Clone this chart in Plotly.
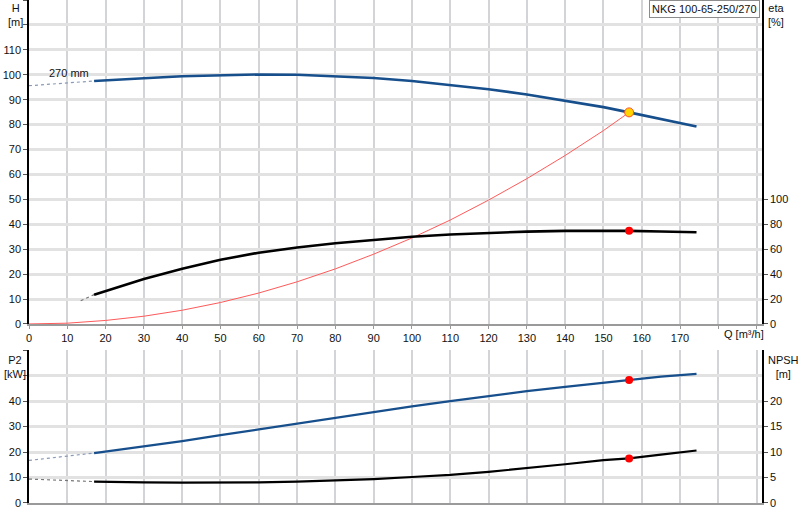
import plotly.graph_objects as go

# Pump NKG 100-65-250/270, values
pump_name = "NKG 100-65-250/270"
impeller = "270 mm"

# Q in m³/h
q_main = [17, 20, 30, 40, 50, 60, 70, 80, 90, 100, 110, 120, 130, 140, 150, 156.7, 165, 174.3]
h_main = [97.5, 97.8, 98.6, 99.4, 99.9, 100.1, 100.0, 99.5, 98.7, 97.5, 96.0, 94.2, 92.1, 89.7, 87.0, 84.9, 82.3, 79.2]
q_h_ext = [0, 17]
h_ext = [95.6, 97.5]

q_eta = [17, 20, 30, 40, 50, 60, 70, 80, 90, 100, 110, 120, 130, 140, 150, 156.7, 165, 174.3]
eta_main = [23.5, 26.5, 36.0, 44.2, 51.5, 57.2, 61.4, 64.8, 67.6, 70.0, 71.8, 73.2, 74.1, 74.7, 75.0, 74.7, 74.2, 73.6]
q_eta_ext = [13.5, 17]
eta_ext = [18.6, 23.5]

q_sys = [0, 10, 20, 30, 40, 50, 60, 70, 80, 90, 100, 110, 120, 130, 140, 150, 156.7]
h_sys = [0, 0.3, 1.4, 3.1, 5.5, 8.6, 12.4, 16.9, 22.1, 28.0, 34.5, 41.7, 49.7, 58.3, 67.6, 77.6, 84.9]

q_p2 = [17, 20, 30, 40, 50, 60, 70, 80, 90, 100, 110, 120, 130, 140, 150, 156.7, 165, 174.3]
p2_main = [19.6, 20.2, 22.3, 24.3, 26.6, 28.9, 31.1, 33.4, 35.7, 37.9, 40.0, 42.0, 43.9, 45.6, 47.3, 48.3, 49.6, 50.7]
q_p2_ext = [0, 17]
p2_ext = [16.7, 19.6]

q_npsh = [17, 20, 30, 40, 50, 60, 70, 80, 90, 100, 110, 120, 130, 140, 150, 156.7, 165, 174.3]
npsh_main = [4.2, 4.15, 4.05, 4.0, 4.0, 4.05, 4.2, 4.4, 4.7, 5.1, 5.5, 6.1, 6.8, 7.6, 8.4, 8.75, 9.5, 10.3]
q_npsh_ext = [0, 17]
npsh_ext = [4.7, 4.2]

q_duty = 156.7
h_duty = 84.9
eta_duty = 74.7
p2_duty = 48.3
npsh_duty = 8.75

x_ticks = list(range(0, 200, 10))
x_labels = [str(v) if v <= 170 else "" for v in x_ticks]

BLUE = "#174f8c"
FONT = "Liberation Sans, Arial, sans-serif"

fig = go.Figure()

# top: head / efficiency
fig.add_trace(go.Scatter(x=q_h_ext, y=h_ext, mode="lines",
                         line=dict(color="#8a9ab5", width=1.2, dash="dot"),
                         xaxis="x", yaxis="y"))
fig.add_trace(go.Scatter(x=q_sys, y=h_sys, mode="lines",
                         line=dict(color="#ff5a5a", width=1),
                         xaxis="x", yaxis="y"))
fig.add_trace(go.Scatter(x=q_main, y=h_main, mode="lines",
                         line=dict(color=BLUE, width=2.6),
                         xaxis="x", yaxis="y"))
fig.add_trace(go.Scatter(x=q_eta_ext, y=eta_ext, mode="lines",
                         line=dict(color="#777777", width=1.2, dash="dot"),
                         xaxis="x", yaxis="y2"))
fig.add_trace(go.Scatter(x=q_eta, y=eta_main, mode="lines",
                         line=dict(color="black", width=2.6),
                         xaxis="x", yaxis="y2"))
fig.add_trace(go.Scatter(x=[q_duty], y=[h_duty], mode="markers",
                         marker=dict(color="#ffd400", size=9,
                                     line=dict(color="#ff5020", width=1)),
                         xaxis="x", yaxis="y"))
fig.add_trace(go.Scatter(x=[q_duty], y=[eta_duty], mode="markers",
                         marker=dict(color="#ff0000", size=8),
                         xaxis="x", yaxis="y2"))

# bottom: power / NPSH
fig.add_trace(go.Scatter(x=q_p2_ext, y=p2_ext, mode="lines",
                         line=dict(color="#8a9ab5", width=1.2, dash="dot"),
                         xaxis="x2", yaxis="y3"))
fig.add_trace(go.Scatter(x=q_p2, y=p2_main, mode="lines",
                         line=dict(color=BLUE, width=2.2),
                         xaxis="x2", yaxis="y3"))
fig.add_trace(go.Scatter(x=[q_duty], y=[p2_duty], mode="markers",
                         marker=dict(color="#ff0000", size=8),
                         xaxis="x2", yaxis="y3"))
fig.add_trace(go.Scatter(x=q_npsh_ext, y=npsh_ext, mode="lines",
                         line=dict(color="#777777", width=1.2, dash="dot"),
                         xaxis="x2", yaxis="y4"))
fig.add_trace(go.Scatter(x=q_npsh, y=npsh_main, mode="lines",
                         line=dict(color="black", width=2.2),
                         xaxis="x2", yaxis="y4"))
fig.add_trace(go.Scatter(x=[q_duty], y=[npsh_duty], mode="markers",
                         marker=dict(color="#ff0000", size=8),
                         xaxis="x2", yaxis="y4"))

axis_font = dict(family=FONT, size=11, color="#111111")
h_ticks = list(range(0, 140, 10))
p2_ticks = list(range(0, 70, 10))

fig.update_layout(
    width=800, height=520,
    margin=dict(l=29, r=38, t=0, b=17, autoexpand=False),
    paper_bgcolor="white", plot_bgcolor="white",
    showlegend=False,
    font=axis_font,
    xaxis=dict(domain=[0, 1], range=[0, 191.4], anchor="y", automargin=False,
               tickvals=x_ticks, ticktext=x_labels,
               showgrid=True, gridcolor="#d2d4d8", gridwidth=1.5,
               showline=True, linecolor="#9a9a9a", linewidth=2,
               ticks="outside", ticklen=3, tickcolor="#9a9a9a",
               zeroline=False, tickfont=axis_font),
    yaxis=dict(domain=[0.356, 1], range=[0, 130], anchor="x", automargin=False,
               tickvals=h_ticks,
               ticktext=[str(v) if v <= 110 else "" for v in h_ticks],
               showgrid=True, gridcolor="#e2e2e2", gridwidth=2.5,
               showline=True, linecolor="black", linewidth=1.5,
               ticks="outside", ticklen=4, tickcolor="#555",
               zeroline=False, tickfont=axis_font),
    yaxis2=dict(overlaying="y", side="right", range=[0, 260], anchor="x",
                automargin=False,
                tickvals=list(range(0, 120, 20)),
                showgrid=False, zeroline=False,
                showline=True, linecolor="black", linewidth=1.5,
                ticks="outside", ticklen=4, tickcolor="#555",
                tickfont=axis_font),
    xaxis2=dict(domain=[0, 1], range=[0, 191.4], anchor="y3", automargin=False,
                tickvals=x_ticks, showticklabels=False,
                showgrid=True, gridcolor="#d2d4d8", gridwidth=1.5,
                showline=True, linecolor="#9a9a9a", linewidth=2,
                zeroline=False),
    yaxis3=dict(domain=[0, 0.304], range=[0, 60], anchor="x2", automargin=False,
                tickvals=p2_ticks,
                ticktext=[str(v) if v <= 40 else "" for v in p2_ticks],
                showgrid=True, gridcolor="#e2e2e2", gridwidth=2.5,
                showline=True, linecolor="black", linewidth=1.5,
                ticks="outside", ticklen=4, tickcolor="#555",
                zeroline=False, tickfont=axis_font),
    yaxis4=dict(overlaying="y3", side="right", range=[0, 30], anchor="x2",
                automargin=False,
                tickvals=list(range(0, 25, 5)),
                showgrid=False, zeroline=False,
                showline=True, linecolor="black", linewidth=1.5,
                ticks="outside", ticklen=4, tickcolor="#555",
                tickfont=axis_font),
)

ann = dict(xref="paper", yref="paper", showarrow=False, font=axis_font)
fig.add_annotation(text="H<br>[m]", x=-0.019, y=1.0, xanchor="center", yanchor="top",
                   yshift=0, **ann)
fig.add_annotation(text="eta<br>[%]", x=1.005, y=1.0, xanchor="left", yanchor="top",
                   yshift=0, **ann)
fig.add_annotation(text="P2<br>[kW]", x=-0.019, y=0.304, xanchor="center", yanchor="top",
                   yshift=-2, **ann)
fig.add_annotation(text="NPSH<br>[m]", x=1.005, y=0.304, xanchor="left", yanchor="top",
                   yshift=-2, **ann)
fig.add_annotation(text="Q [m³/h]", x=181, xref="x", y=0, yref="y",
                   xanchor="left", yanchor="top", yshift=-2, showarrow=False,
                   font=axis_font)
fig.add_annotation(text=impeller, x=4.7, xref="x", y=100.6, yref="y",
                   xanchor="left", yanchor="middle", showarrow=False,
                   font=axis_font)
fig.add_annotation(text=pump_name, x=1.0, y=1.0, xanchor="right", yanchor="top",
                   xshift=-2, bgcolor="white", bordercolor="#8c8c8c", borderwidth=1,
                   borderpad=2, **ann)

# drop the browser's default 8px body margin so the chart sits at the page corner
fig.write_html("out.html", config={"displayModeBar": False},
               post_script="document.body.style.margin='0';")
